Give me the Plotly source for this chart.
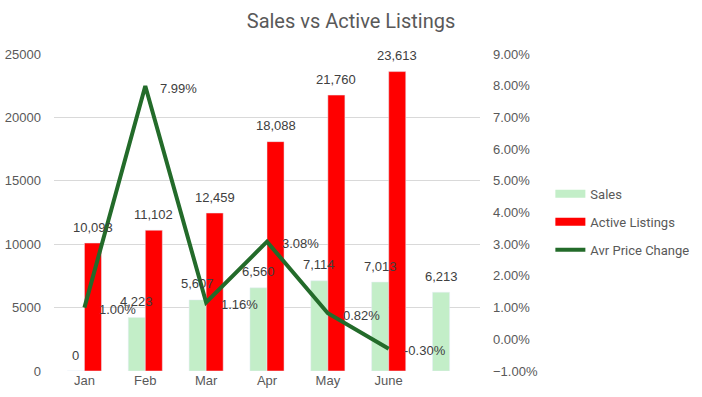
import plotly.graph_objects as go

months = ["Jan", "Feb", "Mar", "Apr", "May", "June", " "]
sales = [0, 4223, 5607, 6560, 7114, 7013, 6213]
active_listings = [10093, 11102, 12459, 18088, 21760, 23613, None]
price_change = [0.0100, 0.0799, 0.0116, 0.0308, 0.0082, -0.0030, None]

sales_color = "#C3EEC8"
active_color = "#FF0000"
line_color = "#236B2A"
label_font = dict(family="Liberation Sans, Arial, sans-serif", size=13, color="#404040")
tick_font = dict(family="Liberation Sans, Arial, sans-serif", size=13, color="#595959")
BARGAP = 0.44

fig = go.Figure()
fig.add_trace(go.Bar(x=months, y=sales, name="Sales", marker_color=sales_color, showlegend=False))
fig.add_trace(go.Bar(x=months, y=active_listings, name="Active Listings",
                     marker_color=active_color, showlegend=False))
fig.add_trace(go.Scatter(
    x=months, y=price_change, name="Avr Price Change", yaxis="y2", mode="lines",
    line=dict(color=line_color, width=4), showlegend=False,
))

# legend proxies (Excel-style wide swatches)
for name, color, w, grp in [("Sales", sales_color, 8, "a"), ("Active Listings", active_color, 8, "b"),
                            ("Avr Price Change", line_color, 4, "c")]:
    fig.add_trace(go.Scatter(x=[None], y=[None], mode="lines", name=name,
                             line=dict(color=color, width=w), legendgroup=grp))

# bar data labels
off = (1 - BARGAP) / 4
for i, (s, a) in enumerate(zip(sales, active_listings)):
    fig.add_annotation(x=i - off, y=s, xref="x", yref="y", text=f"{s:,}", showarrow=False,
                       yanchor="middle", yshift=16, font=label_font)
    if a is not None:
        fig.add_annotation(x=i + off, y=a, xref="x", yref="y", text=f"{a:,}", showarrow=False,
                           yanchor="middle", yshift=16, font=label_font)

# line data labels
for m, v in zip(months, price_change):
    if v is None:
        continue
    fig.add_annotation(x=m, y=v, yref="y2", xref="x", text=f"{v*100:.2f}%",
                       showarrow=False, xanchor="left", xshift=13, yshift=-2,
                       font=label_font)

fig.update_layout(
    width=702, height=397,
    margin=dict(l=54, r=222, t=54, b=26, autoexpand=False),
    paper_bgcolor="white", plot_bgcolor="white",
    barmode="group", bargap=BARGAP, bargroupgap=0,
    title=dict(text="Sales vs Active Listings", x=0.5, xref="container", xanchor="center",
               y=0.947, yref="container", yanchor="middle",
               font=dict(family="Roboto, sans-serif", size=20, color="#595959")),
    xaxis=dict(showgrid=False, showline=False, tickfont=tick_font, ticks="", automargin=False),
    yaxis=dict(range=[0, 25000], dtick=5000, tickformat="d", showgrid=True,
               gridcolor="#D9D9D9", gridwidth=1, zeroline=False, tickfont=tick_font,
               ticklabelstandoff=12, automargin=False),
    yaxis2=dict(range=[-0.01, 0.09], dtick=0.01, tickformat=".2%", overlaying="y",
                side="right", showgrid=False, zeroline=False, tickfont=tick_font,
                ticklabelstandoff=12, automargin=False),
    legend=dict(x=0.784, xref="container", xanchor="left", y=0.441, yref="container",
                yanchor="middle", traceorder="grouped",
                tracegroupgap=8, font=dict(family="Roboto, sans-serif", size=13, color="#595959"),
                bgcolor="rgba(0,0,0,0)"),
    showlegend=True,
)

fig.write_html("out.html", config={"displayModeBar": False},
               post_script="document.body.style.margin='0';")
